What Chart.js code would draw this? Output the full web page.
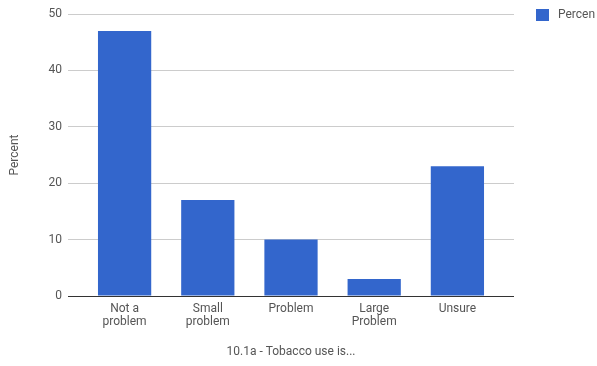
<!DOCTYPE html>
<html>
<head>
<meta charset="utf-8">
<script src="https://cdn.jsdelivr.net/npm/chart.js@4/dist/chart.umd.min.js"></script>
<style>
    html, body { margin: 0; padding: 0; background: #fff; }
    #wrap { width: 597px; height: 366px; }
</style>
</head>
<body>
<div id="wrap"><canvas id="tobacco-chart" width="597" height="366"></canvas></div>
<script>
// 10.1a - Tobacco use is...
const categories = [['Not a', 'problem'], ['Small', 'problem'], 'Problem', ['Large', 'Problem'], 'Unsure'];
const percentValues = [47, 17, 10, 3, 23];
const yTicks = [0, 10, 20, 30, 40, 50];

const seriesName = 'Percent';
const legendText = 'Percen';
const barColor = '#3366cc';
const textColor = '#555';

// legend in the top right corner, drawn by hand like the old google chart
const cornerLegend = {
    id: 'cornerLegend',
    afterDraw(chart) {
        const ctx = chart.ctx;
        ctx.save();
        ctx.fillStyle = barColor;
        ctx.fillRect(536, 9, 13, 12);
        ctx.fillStyle = textColor;
        ctx.font = '12px Roboto';
        ctx.textBaseline = 'middle';
        ctx.fillText(legendText, 558, 15);
        ctx.restore();
    }
};

// bars sit a bit inside the gridlines, so squeeze the category range
const xInset = {
    id: 'xInset',
    afterLayout(chart) {
        const x = chart.scales.x;
        const inset = 15;
        x._startPixel += inset;
        x._endPixel -= inset;
        x._length -= inset * 2;
    }
};

new Chart(document.getElementById('tobacco-chart').getContext('2d'), {
    type: 'bar',
    data: {
        labels: categories,
        datasets: [{
            label: seriesName,
            data: percentValues,
            backgroundColor: barColor,
            borderWidth: 0,
            categoryPercentage: 1,
            barPercentage: 0.64
        }]
    },
    options: {
        responsive: false,
        animation: false,
        layout: {
            padding: { top: 14, right: 83, left: 0, bottom: 0 }
        },
        plugins: {
            legend: { display: false },
            tooltip: { enabled: false }
        },
        scales: {
            x: {
                grid: { display: false, drawTicks: false },
                border: { display: false },
                ticks: {
                    color: textColor,
                    font: { family: 'Roboto', size: 12, lineHeight: 1.1 },
                    padding: 6,
                    maxRotation: 0,
                    autoSkip: false
                },
                title: {
                    display: true,
                    text: '10.1a - Tobacco use is...',
                    color: textColor,
                    font: { family: 'Roboto', size: 12 },
                    padding: { top: 10, bottom: 7 }
                },
                afterFit(axis) { axis.height = 70; }
            },
            y: {
                min: 0,
                max: 50,
                afterBuildTicks(axis) {
                    axis.ticks = yTicks.map(v => ({ value: v }));
                },
                grid: {
                    drawTicks: false,
                    color: ctx => ctx.tick && ctx.tick.value === 0 ? '#333' : '#ccc'
                },
                border: { display: false },
                ticks: {
                    color: textColor,
                    font: { family: 'Roboto', size: 12 },
                    padding: 6
                },
                title: {
                    display: true,
                    text: 'Percent',
                    color: textColor,
                    font: { family: 'Roboto', size: 12 },
                    padding: { top: 8, bottom: 0 }
                },
                afterFit(axis) { axis.width = 68; }
            }
        }
    },
    plugins: [cornerLegend, xInset]
});
</script>
</body>
</html>
